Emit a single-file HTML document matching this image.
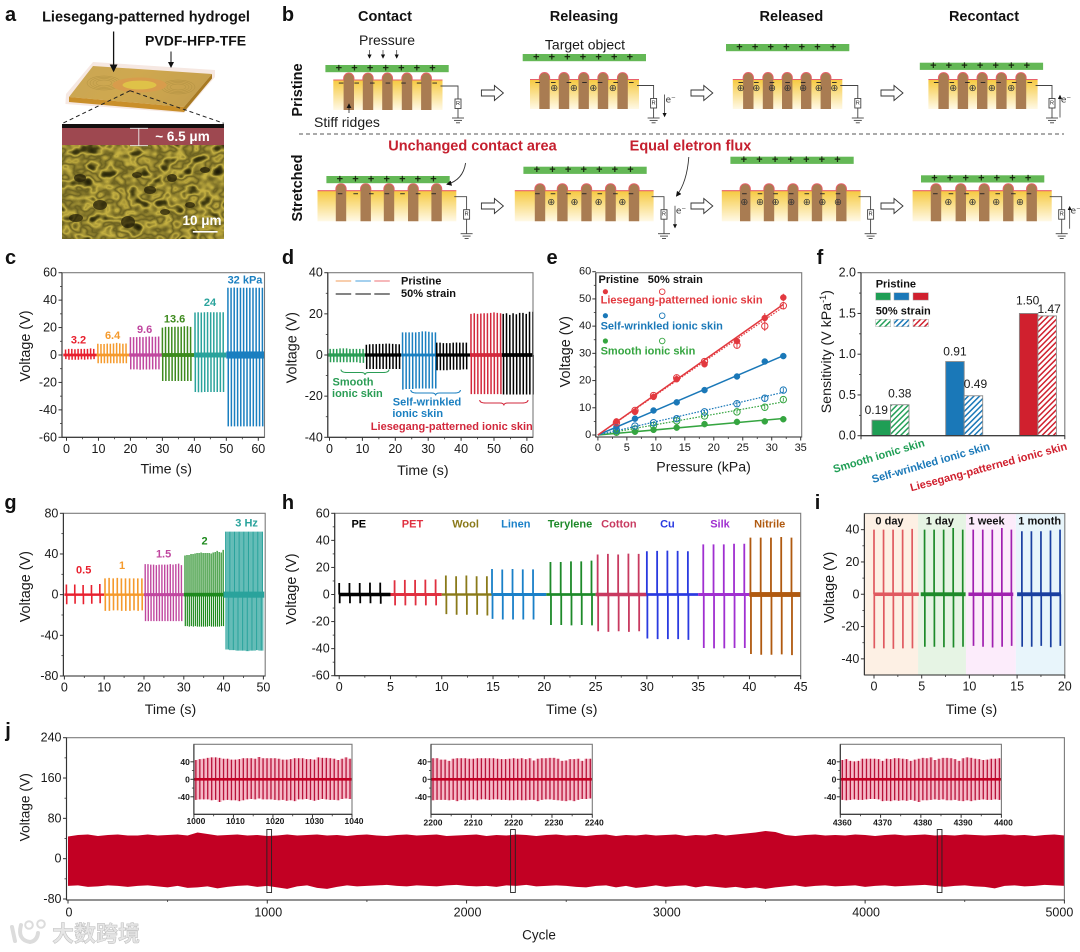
<!DOCTYPE html>
<html lang="en">
<head>
<meta charset="utf-8">
<title>Liesegang-patterned ionic skin figure</title>
<style>
html,body{margin:0;padding:0;background:#fff;}
svg{display:block;font-family:"Liberation Sans","Noto Sans CJK SC",sans-serif;}
</style>
</head>
<body>
<svg id="fig" xmlns="http://www.w3.org/2000/svg" width="1080" height="952" viewBox="0 0 1080 952">
<defs>
<linearGradient id="gel" x1="0" y1="0" x2="0" y2="1"><stop offset="0" stop-color="#f6c93f"/><stop offset="1" stop-color="#fff9e6"/></linearGradient>
<linearGradient id="slabTop" x1="0" y1="0" x2="1" y2="0.3"><stop offset="0" stop-color="#c9a655"/><stop offset="0.5" stop-color="#cfa84f"/><stop offset="1" stop-color="#c6a04e"/></linearGradient>
<pattern id="hatchGreen" width="4" height="4" patternUnits="userSpaceOnUse" patternTransform="rotate(45)"><rect width="4" height="4" fill="#fff"/><rect width="1.5" height="4" fill="#25a05a"/></pattern>
<pattern id="hatchBlue" width="4" height="4" patternUnits="userSpaceOnUse" patternTransform="rotate(45)"><rect width="4" height="4" fill="#fff"/><rect width="1.5" height="4" fill="#1a78b8"/></pattern>
<pattern id="hatchRed" width="4" height="4" patternUnits="userSpaceOnUse" patternTransform="rotate(45)"><rect width="4" height="4" fill="#fff"/><rect width="1.5" height="4" fill="#d0202e"/></pattern>
<filter id="foam" x="0" y="0" width="100%" height="100%" color-interpolation-filters="sRGB">
<feTurbulence type="fractalNoise" baseFrequency="0.07 0.09" numOctaves="2" seed="7"/>
<feColorMatrix type="matrix" values="1 0 0 0 0 1 0 0 0 0 1 0 0 0 0 0 0 0 0 1"/>
<feComponentTransfer>
<feFuncR type="table" tableValues="0.1 0.12 0.26 0.78 0.42 0.74 0.4 0.6"/>
<feFuncG type="table" tableValues="0.09 0.11 0.24 0.7 0.38 0.66 0.36 0.54"/>
<feFuncB type="table" tableValues="0.02 0.03 0.07 0.26 0.13 0.24 0.12 0.2"/>
<feFuncA type="linear" slope="0" intercept="1"/>
</feComponentTransfer>
</filter>
<marker id="arrowBlack" markerWidth="7" markerHeight="7" refX="5" refY="3" orient="auto"><path d="M0,0 L6,3 L0,6 Z" fill="#111"/></marker>
</defs>
</svg>
<script>
/* ---------- panel c data ---------- */
const cCategories = ['3.2','6.4','9.6','13.6','24','32 kPa'];
const cFirstPulse = [-0.3,9.8,20,30,40.2,50.5];
const cSegEnd = [9.4,19.6,29.8,39.9,50,62];
const cPos = [
 [4,4.5,4.5,4.2,4.5,4.5,4.5,4.5,4.8,4.5],
 [8.2,8,8,8.3,8.2,8.4,8.8,8.5,8.2,8.4],
 [13,13,13,13.2,13,13.3,13.5,13.3,13.3,13.5],
 [20,20.5,20.5,20.5,20.6,20.6,20.6,21,21,20.5],
 [31,31.2,31,31.2,31.3,31.2,31.2,31.2,31.2,31.2],
 [49,49,49.2,49,49,49,49,49,49,49,49,49]
];
const cNeg = [
 [-3,-3.5,-3.5,-3.5,-3.5,-3.2,-3.5,-3.2,-3.2,-3],
 [-6,-6,-6,-6,-6,-6,-6,-6,-6,-6],
 [-10.5,-10.5,-10.5,-10.8,-10.6,-10.6,-10.6,-10.5,-10.5,-10.5],
 [-19,-19,-19,-19,-19,-19,-19,-19,-19,-19],
 [-27,-27.2,-27.2,-27,-27,-27,-27,-27,-27,-27],
 [-52,-52,-52,-52,-52,-52,-52,-52,-52,-52,-52,-52]
];
const cNoise = [1,1,1.2,1.4,1.8,2.6];
const cXTicks = [0,10,20,30,40,50,60];
const cYTicks = [-60,-40,-20,0,20,40,60];

/* ---------- panel d data ---------- */
const dCategories = ['smooth-pristine','smooth-strain','wrinkled-pristine','wrinkled-strain','liesegang-pristine','liesegang-strain'];
const dFirstPulse = [0.2,11.2,22.2,32.6,43,52.8];
const dSegEnd = [10.8,21.8,32.3,42.7,52.4,62];
const dPos = [
 [3,3,3,3.2,3.2,3.2,3,3,3,3,3],
 [5,5.2,5.3,5.3,5.4,5.4,5.5,5.5,5.4,5.3,5.2],
 [11,11,11,11,11,11.2,11.5,11.5,11.3,11,11],
 [6,6,5.8,5.8,5.8,6,6.1,6,6,6],
 [20,20.3,20,20.2,20.3,20.3,20.5,20.7,20.5,20.3],
 [20,20.3,19.5,20.3,19.8,20.5,20.5,20,21,21]
];
const dNeg = [
 [-3.5,-3.5,-3.5,-3.5,-3.5,-3.5,-3.5,-3.5,-3.5,-3.8,-3.8],
 [-6.8,-6.8,-6.8,-6.8,-6.8,-6.8,-6.8,-6.8,-6.8,-6.8,-6.8],
 [-16.8,-16.5,-16.5,-16.5,-16.3,-16.3,-16.3,-16.3,-16.3,-16.3,-16.3],
 [-7.4,-7.4,-7.4,-7.4,-7.2,-7.2,-7.2,-7.2,-7,-7],
 [-19,-19,-19,-19,-19,-19,-19,-19,-19,-19],
 [-19.2,-19.2,-19.2,-19.2,-19.2,-19.2,-19.2,-19.2,-19.2,-19.2]
];
const dNoise = [0.8,0.8,0.7,0.8,0.9,0.9];
const dXTicks = [0,10,20,30,40,50,60];
const dYTicks = [-40,-20,0,20,40];

/* ---------- panel e data ---------- */
const ePressure = [3.2,6.4,9.6,13.6,18.4,24,28.8,32];
const eLiesegangPristine = [5,8.5,14,20.5,26,34.5,43,50.5];
const eLiesegangStrain = [4.5,9,14.5,21,27,33,40,47.5];
const eWrinkledPristine = [3,6,9,12,16.5,21.5,27,29];
const eWrinkledStrain = [1.8,3.3,4.5,6,8.5,11.5,13.5,16.5];
const eSmoothPristine = [1.2,1.2,1.9,2.7,4,4.8,5,5.8];
const eSmoothStrain = [1,2.2,3.5,5.2,7,8.5,10.2,13];
const eLiesegangError = [0.5,0.8,0.8,1,1,1.3,1.8,1.4];
const eWrinkledError = [0.4,0.5,0.5,0.6,0.7,1,1,0.8];
const eSmoothError = [0.3,0.3,0.4,0.4,0.5,0.6,0.8,0.7];
const eXTicks = [0,5,10,15,20,25,30,35];
const eYTicks = [0,10,20,30,40,50,60];

/* ---------- panel f data ---------- */
const fCategories = ['Smooth ionic skin','Self-wrinkled ionic skin','Liesegang-patterned ionic skin'];
const fPristine = [0.19,0.91,1.50];
const fStrain = [0.38,0.49,1.47];
const fYTicks = [0,0.5,1,1.5,2];

/* ---------- panel g data ---------- */
const gCategories = ['0.5','1','1.5','2','3 Hz'];
const gFirstPulse = [0.5,10.2,20.3,30.3,40.5];
const gStep = [2.1,1.03,0.7,0.505,0.32];
const gPos = [
 [10,10,9.5,9.5,10.5],
 [16,16.5,16,16.5,16,16,16,16,16,16],
 [30,30,29.5,29.5,29,29.5,29.5,29.5,29.5,30,29.5,30,30.5,29],
 [38.5,39,39,40,40,40.5,41,41,41.5,41,41,41,41,40.5,41.5,42,43,42,41.5,44],
 [62,62,62,62,62,62,62,62,62,62,62,62,62,62,62,62,62,62,62,62,62,62,62,62,62,62,62,62,62,62]
];
const gNeg = [
 [-9.5,-9,-9.5,-9,-8.5],
 [-16,-16,-15.5,-15.5,-16,-16,-16,-15.5,-16,-15.5],
 [-26,-26,-26,-26,-26,-26,-26,-26,-26,-26,-26,-26,-26,-26],
 [-31,-31,-31.5,-31,-31.5,-31,-31.5,-31.5,-31.5,-31.5,-31.5,-31.5,-31,-31.5,-31.5,-31.5,-31.5,-31.5,-31,-31],
 [-54,-54,-54,-54.5,-54.5,-54.5,-54.5,-54.5,-55,-55,-55,-55,-55,-55,-55,-55,-55.5,-55.5,-55.5,-55,-55,-55,-55,-55,-54.5,-54.5,-55,-55,-55,-55]
];
const gBaseStart = [0,10,20,30,40];
const gBaseEnd = [10,20,30,40,50.2];
const gNoise = [1.2,1.2,1.5,1.8,3];
const gXTicks = [0,10,20,30,40,50];
const gYTicks = [-80,-40,0,40,80];

/* ---------- panel h data ---------- */
const hCategories = ['PE','PET','Wool','Linen','Terylene','Cotton','Cu','Silk','Nitrile'];
const hFirstPulse = [0,5.4,10.4,14.9,20.6,25.2,30,35.5,40.1];
const hBaseStart = [0,5,10,15,20.2,25,30,35,40];
const hBaseEnd = [5,10,15,20.2,25,30,35,40,45];
const hPos = [
 [8.5,8.5,8.5,8.8,8.8],
 [10.5,10.8,10.8,11,11.2],
 [14,13.5,14,13.5,13.5],
 [18.8,18.5,18.8,18.6,18.6],
 [24,24,24.5,24.5,25],
 [29.6,30,29.6,30.2,30],
 [32,32.2,32.4,32.2,32],
 [37,37,37,37.5,37.5],
 [42,42,42,42.5,42]
];
const hNeg = [
 [-6.5,-6.5,-6.5,-6.5,-6.8],
 [-8,-8,-8,-8,-8],
 [-14.5,-15,-15,-15,-15.5],
 [-18,-18.5,-18.5,-18.5,-18.5],
 [-22.5,-22.5,-22.8,-22.5,-22.8],
 [-27.2,-27.6,-27.2,-27.6,-27.2],
 [-32.5,-33,-33,-33,-33.5],
 [-39.5,-39.8,-39.8,-39.5,-39.5],
 [-44,-44.5,-44.5,-44.2,-44.8]
];
const hNoise = [1.3,1.1,0.9,1.1,1,1.3,1,1.1,1.8];
const hXTicks = [0,5,10,15,20,25,30,35,40,45];
const hYTicks = [-60,-40,-20,0,20,40,60];

/* ---------- panel i data ---------- */
const iCategories = ['0 day','1 day','1 week','1 month'];
const iFirstPulse = [0,5.3,10.4,15.5];
const iBaseStart = [0,4.9,9.9,15];
const iBaseEnd = [4.7,9.6,14.6,19.6];
const iBandEdges = [-1.05,4.62,9.64,14.87,20];
const iPos = [
 [40,40,40,40,40.5],
 [40,40,40,41,40],
 [40,40,40,41,40],
 [39,39,39,39.5,40]
];
const iNeg = [
 [-33.5,-33.5,-33.8,-33.5,-33.5],
 [-32.5,-32.5,-32.8,-33,-32.5],
 [-32,-32.5,-33,-32.5,-32],
 [-32.5,-32.5,-32,-32.8,-32]
];
const iNoise = [1.1,1.2,1.1,1.2];
const iXTicks = [0,5,10,15,20];
const iYTicks = [-40,-20,0,20,40];

/* ---------- panel j data ---------- */
const jTop = [44,47,48,45,47,48,46,46,48,46,47,48,46,52,49,46,47,48,46,47,45,46,48,46,47,48,46,47,45,47,48,46,45,47,48,46,47,48,45,46,47,48,45,47,46,48,47,45,47,48,46,47,45,47,48,45,47,46,48,46,47,48,45,47,46,49,46,48,50,52,55,53,47,45,47,48,46,47,46,48,47,45,47,48,46,47,48,46,47,46,48,47,46,47,48,46,47,45,47,48,46];
const jBottom = [-54,-53,-56,-55,-53,-54,-56,-54,-53,-55,-57,-54,-58,-57,-55,-59,-56,-54,-53,-56,-54,-57,-60,-55,-53,-58,-60,-56,-53,-55,-54,-53,-52,-54,-55,-53,-54,-55,-53,-52,-54,-55,-54,-56,-53,-54,-52,-55,-54,-53,-54,-56,-57,-54,-53,-57,-54,-58,-56,-53,-56,-54,-53,-57,-54,-56,-58,-56,-59,-57,-60,-57,-55,-53,-56,-54,-53,-55,-54,-53,-56,-54,-53,-55,-54,-53,-52,-54,-56,-54,-53,-55,-56,-59,-54,-53,-55,-54,-52,-53,-54];
const jXTicks = [0,1000,2000,3000,4000,5000];
const jYTicks = [-80,0,80,160,240];
const jInsetStarts = [1000,2200,4360];
const jMarkCycles = [998,2221,4362];
const jInsetPos = [
 [44,46,47,49,50,50,49,47,47,45,45,46,48,48,48,47,51,48,48,48,48,47,45,45,46,48,48,48,46,46,45,50,49,49,48,47,44,47,50,47],
 [48,48,45,45,42,47,48,48,48,47,47,48,48,48,48,48,47,46,46,47,48,47,48,46,48,43,47,48,48,49,49,47,42,43,46,46,47,42,47,47],
 [44,46,42,41,42,47,47,47,47,46,42,47,46,48,48,47,46,42,45,47,49,48,50,44,47,49,49,48,46,42,48,50,49,47,46,44,45,47,47,48]
];
const jInsetNeg = [
 [-47,-46,-46,-46,-48,-47,-52,-48,-47,-48,-48,-50,-48,-46,-45,-46,-44,-46,-46,-46,-47,-48,-47,-49,-48,-50,-46,-46,-45,-47,-49,-47,-45,-46,-47,-47,-48,-45,-44,-45],
 [-48,-47,-47,-47,-48,-47,-50,-47,-48,-47,-46,-48,-46,-46,-47,-46,-46,-47,-47,-48,-48,-47,-48,-48,-47,-47,-50,-47,-46,-46,-47,-48,-49,-50,-48,-50,-47,-45,-45,-44],
 [-47,-48,-47,-46,-47,-47,-46,-45,-45,-46,-50,-49,-50,-48,-49,-48,-49,-47,-49,-52,-48,-48,-47,-46,-47,-46,-48,-48,-47,-49,-50,-48,-50,-48,-47,-46,-47,-47,-46,-47]
];
const jInsetXTicks = [0,10,20,30,40];
const jInsetYTicks = [-40,0,40];

/* ---------- helpers ---------- */
const SVGNS = 'http://www.w3.org/2000/svg';
const root = document.getElementById('fig');
function lin(d0,d1,r0,r1){return v=>r0+(v-d0)*(r1-r0)/(d1-d0);}
function svgEl(parent,tag,attrs){
  const el=document.createElementNS(SVGNS,tag);
  for(const k in attrs){el.setAttribute(k,attrs[k]);}
  parent.appendChild(el);
  return el;
}
function panel(name){
  const g=svgEl(root,'g',{});
  
  
  return g;
}
function txt(parent,str,x,y,o,name){
  o=o||{};
  const el=svgEl(parent,'text',{x:x,y:y,'text-anchor':o.anchor||'middle','dominant-baseline':'central','font-size':o.size||12.5,'font-weight':o.weight||'normal',fill:o.fill||'#1a1a1a'});
  if(o.family){el.setAttribute('font-family',o.family);}
  if(o.rotate!==undefined){el.setAttribute('transform','rotate('+o.rotate+' '+x+' '+y+')');}
  el.textContent=str;
  
  
  return el;
}
function shape(parent,tag,attrs,name){
  const el=svgEl(parent,tag,attrs);
  
  
  return el;
}
function minorsOf(ticks){
  const out=[];
  for(let i=0;i<ticks.length-1;i++){out.push((ticks[i]+ticks[i+1])/2);}
  return out;
}
function drawAxes(g,box,x,y,xt,yt,o){
  o=o||{};
  const size=o.size||12.5;
  const frame=shape(g,'rect',{x:box.l,y:box.t,width:box.r-box.l,height:box.b-box.t,fill:'none',stroke:'#7a7a7a','stroke-width':1.1},'axes-frame');
  shape(g,'line',{x1:box.l,y1:box.t,x2:box.l,y2:box.b,stroke:'#333','stroke-width':1.1},'y-axis-line');
  shape(g,'line',{x1:box.l,y1:box.b,x2:box.r,y2:box.b,stroke:'#333','stroke-width':1.1},'x-axis-line');
  xt.forEach((t,i)=>{
    shape(g,'line',{x1:x(t),y1:box.b,x2:x(t),y2:box.b+3.5,stroke:'#333','stroke-width':1},'x-tick');
    const shift=(o.xLabelShift||0)+(i===xt.length-1?(o.lastLabelShift||0):0);
    txt(g,(o.xFmt?o.xFmt(t):String(t)),x(t)+shift,box.b+(o.xOff||11.5),{size:size,weight:o.weight},'x-tick-label');
  });
  if(!o.noMinor){minorsOf(xt).forEach(t=>{
    shape(g,'line',{x1:x(t),y1:box.b,x2:x(t),y2:box.b+2,stroke:'#333','stroke-width':0.8},'x-minor-tick');
  });}
  yt.forEach(t=>{
    shape(g,'line',{x1:box.l-3.5,y1:y(t),x2:box.l,y2:y(t),stroke:'#333','stroke-width':1},'y-tick');
    txt(g,(o.yFmt?o.yFmt(t):String(t)),box.l-(o.yOff||5),y(t),{size:size,anchor:'end',weight:o.weight},'y-tick-label');
  });
  minorsOf(yt).forEach(t=>{
    shape(g,'line',{x1:box.l-2,y1:y(t),x2:box.l,y2:y(t),stroke:'#333','stroke-width':0.8},'y-minor-tick');
  });
  return frame;
}
function drawPulses(g,x,y,first,step,pos,neg,color,lw,shift){
  let d='';
  pos.forEach((v,i)=>{
    const t=first+i*step;
    d+='M'+x(t).toFixed(2)+' '+y(0).toFixed(2)+'V'+y(v).toFixed(2);
    d+='M'+x(t+shift).toFixed(2)+' '+y(0).toFixed(2)+'V'+y(neg[i]).toFixed(2);
  });
  const p=svgEl(g,'path',{d:d,stroke:color,'stroke-width':lw,fill:'none'});
  
  
  return p;
}
function drawBaseline(g,x,y,t0,t1,noise,color){
  const r=svgEl(g,'rect',{x:x(t0),y:y(noise),width:x(t1)-x(t0),height:y(-noise)-y(noise),fill:color});
  
  
  return r;
}

/* ---------- panel a ---------- */
(function(){
  const g=panel('panel-a');
  txt(g,'a',10.5,15,{size:20,weight:'bold',fill:'#111'},'panel-label-a');
  txt(g,'Liesegang-patterned hydrogel',146,17.5,{size:14.5,weight:'bold',fill:'#111'},'hydrogel-label');
  txt(g,'PVDF-HFP-TFE',195.6,40.7,{size:14,weight:'bold',fill:'#111'},'pvdf-label');
  shape(g,'polygon',{points:'93,62 215,70 215,77 184,113 65.4,104 66,94',fill:'#f6e8e2'},'slab-halo');
  shape(g,'polygon',{points:'93,66 212,74 184,107 69,97',fill:'url(#slabTop)'},'slab-top');
  shape(g,'polygon',{points:'69,97 184,107 184,112 69,102',fill:'#c98f2a'},'slab-front');
  shape(g,'polygon',{points:'184,107 212,74 212,78.5 184,112',fill:'#a87a22'},'slab-side');
  [[104,83,17,7],[104,83,14,5.8],[104,83,11,4.4],[104,83,8,3],[178,87,17,7],[178,87,14,5.8],[178,87,11,4.4],[178,87,8,3]].forEach(e=>{
    shape(g,'ellipse',{cx:e[0],cy:e[1],rx:e[2],ry:e[3],fill:'none',stroke:'#a88a3c','stroke-width':0.5,opacity:0.7},'liesegang-ring');
  });
  shape(g,'ellipse',{cx:139.5,cy:85,rx:27,ry:7.5,fill:'#d89c4c'},'center-ring-outer');
  shape(g,'ellipse',{cx:139.5,cy:85,rx:17,ry:4.4,fill:'#dfc248'},'center-ring-inner');
  shape(g,'line',{x1:113.6,y1:31.5,x2:113.6,y2:71,stroke:'#111','stroke-width':1.3,'marker-end':'url(#arrowBlack)'},'hydrogel-arrow');
  shape(g,'line',{x1:171,y1:51.5,x2:171,y2:67,stroke:'#111','stroke-width':1,'marker-end':'url(#arrowBlack)'},'pvdf-arrow');
  shape(g,'line',{x1:130,y1:90.7,x2:62.7,y2:123.3,stroke:'#222','stroke-width':1,'stroke-dasharray':'4 3'},'zoom-guide-left');
  shape(g,'line',{x1:130,y1:90.7,x2:223.8,y2:123.3,stroke:'#222','stroke-width':1,'stroke-dasharray':'4 3'},'zoom-guide-right');
  shape(g,'rect',{x:62,y:124,width:162,height:4,fill:'#141010'},'sem-top-band');
  shape(g,'rect',{x:62,y:128,width:162,height:17,fill:'#9e4850'},'sem-film-layer');
  shape(g,'rect',{x:62,y:145,width:162,height:93.7,fill:'#a89a3c',filter:'url(#foam)'},'sem-foam-image');
  [[80,178,6,4],[100,205,7,5],[137,175,5,3],[150,190,6,4],[172,178,5,4],[128,222,7,6],[76,218,7,4],[190,205,5,3],[165,212,5,3],[205,170,5,3]].forEach(e=>{
    shape(g,'ellipse',{cx:e[0],cy:e[1],rx:e[2],ry:e[3],fill:'#241f08',opacity:0.75},'sem-pore');
  });
  shape(g,'path',{d:'M130 128.3H148M138.8 128.3V145.7M130 145.7H148',stroke:'#eee','stroke-width':0.9,fill:'none'},'thickness-bracket');
  txt(g,'~ 6.5 μm',182.5,136.7,{size:13.5,weight:'bold',fill:'#fff'},'thickness-label');
  txt(g,'10 μm',202,220.7,{size:13.5,weight:'bold',fill:'#fff'},'scale-bar-label');
  shape(g,'rect',{x:192.8,y:231,width:24.8,height:1.6,fill:'#fff'},'scale-bar');
})();

/* ---------- panel b ---------- */
(function(){
  const g=panel('panel-b');
  txt(g,'b',288,15,{size:20,weight:'bold',fill:'#111'},'panel-label-b');
  [['Contact',385],['Releasing',584],['Released',791.4],['Recontact',984]].forEach(h=>{
    txt(g,h[0],h[1],17,{size:14.5,weight:'bold',fill:'#111'},'stage-header');
  });
  txt(g,'Pristine',298,90,{size:14.5,weight:'bold',rotate:-90,fill:'#111'},'row-label-pristine');
  txt(g,'Stretched',298,188,{size:14.5,weight:'bold',rotate:-90,fill:'#111'},'row-label-stretched');
  shape(g,'line',{x1:299,y1:134,x2:1064,y2:134,stroke:'#777','stroke-width':1.2,'stroke-dasharray':'4 3'},'row-divider');
  txt(g,'Pressure',387,40,{size:14,fill:'#1a1a1a'},'pressure-label');
  [369.5,383,396.7].forEach(ax=>{
    shape(g,'line',{x1:ax,y1:50,x2:ax,y2:58,stroke:'#333','stroke-width':0.7,'marker-end':'url(#arrowBlack)'},'pressure-arrow');
  });
  txt(g,'Target object',585,44.7,{size:14,fill:'#1a1a1a'},'target-object-label');
  txt(g,'Stiff ridges',314,122,{size:14,anchor:'start',fill:'#1a1a1a'},'stiff-ridges-label');
  txt(g,'Unchanged contact area',472.5,146.7,{size:14.5,weight:'bold',fill:'#c5202f'},'unchanged-area-label');
  txt(g,'Equal eletron flux',690.5,146.7,{size:14.5,weight:'bold',fill:'#c5202f'},'equal-flux-label');

  function hollowArrow(x0,x1,cy){
    const m=x1-9;
    shape(g,'polygon',{points:[x0,cy-3,m,cy-3,m,cy-7.5,x1,cy,m,cy+7.5,m,cy+3,x0,cy+3].join(','),fill:'#fff',stroke:'#333','stroke-width':0.9},'stage-arrow');
  }
  [[481.4,503.4],[691,712.8],[881,903]].forEach(a=>{hollowArrow(a[0],a[1],93);hollowArrow(a[0],a[1],206);});

  function unit(u){
    const c=svgEl(g,'g',{});
    
    
    shape(c,'rect',{x:u.hx0,y:u.ht,width:u.hx1-u.hx0,height:u.hb-u.ht,fill:'url(#gel)'},'hydrogel-layer');
    shape(c,'line',{x1:u.hx0,y1:u.ht,x2:u.hx1,y2:u.ht,stroke:'#e8606a','stroke-width':1.1},'dielectric-film');
    u.r.forEach(cx=>{
      const w=5.2, top=u.ht-7;
      shape(c,'path',{d:'M'+(cx-w)+' '+u.hb+'V'+(top+w)+'A'+w+' '+w+' 0 0 1 '+(cx+w)+' '+(top+w)+'V'+u.hb+'Z',fill:'#a97c52'},'stiff-ridge');
      shape(c,'path',{d:'M'+(cx-w)+' '+(top+w+2)+'V'+(top+w)+'A'+w+' '+w+' 0 0 1 '+(cx+w)+' '+(top+w)+'V'+(top+w+2),fill:'none',stroke:'#e8606a','stroke-width':0.9},'ridge-film');
    });
    const mid=(u.hx0+u.hx1)/2;
    [-3,-2,-1,0,1,2,3].forEach(k=>{
      shape(c,'rect',{x:mid+k*15.6-2.3,y:u.ht+2.6,width:4.6,height:0.9,fill:'#222'},'negative-charge');
    });
    if(u.ions==='few'){
      for(let i=0;i<u.r.length-1;i++){
        txt(c,'⊕',(u.r[i]+u.r[i+1])/2,u.ht+u.iy,{size:9.5,fill:'#333',family:'"DejaVu Sans",sans-serif'},'positive-ion');
      }
    }else if(u.ions==='all'){
      [-3,-2,-1,0,1,2,3].forEach(k=>{
        txt(c,'⊕',mid+k*15.6,u.ht+u.iy,{size:9.5,fill:'#333',family:'"DejaVu Sans",sans-serif'},'positive-ion');
      });
    }
    shape(c,'rect',{x:u.gx0,y:u.gy,width:123.3,height:7.2,fill:'#64b856'},'target-object');
    for(let k=0;k<7;k++){
      txt(c,'+',u.gx0+13.5+k*15.6,u.gy+3.4,{size:11,weight:'bold',fill:'#1a2a10'},'positive-charge-target');
    }
    const wy=u.ht+6, rt=u.ht+19, gy=u.ht+u.gd;
    shape(c,'path',{d:'M'+(u.hx1-2)+' '+wy+'H'+u.rx+'V'+gy,fill:'none',stroke:'#444','stroke-width':0.9},'circuit-wire');
    shape(c,'rect',{x:u.rx-3,y:rt,width:6,height:9.5,fill:'#fff',stroke:'#444','stroke-width':0.9},'resistor');
    txt(c,'R',u.rx,rt+4.8,{size:5.5,fill:'#222'},'resistor-label');
    [[6,0],[4,2.4],[2,4.8]].forEach(l=>{
      shape(c,'line',{x1:u.rx-l[0],y1:gy+l[1],x2:u.rx+l[0],y2:gy+l[1],stroke:'#444','stroke-width':0.9},'ground-line');
    });
    if(u.e){
      const ax=u.rx+(u.e>0?8:11);
      const y1=u.e>0?u.ht+38:u.ht+15, y2=u.e>0?u.ht+16:u.ht+37;
      shape(c,'line',{x1:ax,y1:y1,x2:ax,y2:y2,stroke:'#222','stroke-width':0.7,'marker-end':'url(#arrowBlack)'},'electron-flow-arrow');
      txt(c,'e⁻',ax+6,u.ht+21,{size:9,fill:'#333',family:'"DejaVu Sans",sans-serif'},'electron-label');
    }
  }
  unit({gx0:325.4,gy:65,hx0:333.3,hx1:442.5,ht:80,hb:110,r:[348.8,368,387.4,407,426.3],ions:'none',iy:8.5,rx:458,gd:38});
  unit({gx0:522.7,gy:54,hx0:530,hx1:639,ht:79.5,hb:109,r:[544.5,564,583.7,603,622.6],ions:'few',iy:9,rx:653.6,gd:38.5,e:-1});
  unit({gx0:726,gy:44,hx0:732.8,hx1:842.3,ht:79.5,hb:109,r:[748.3,768,787.2,806.2,825.8],ions:'all',iy:9,rx:857.8,gd:38.5});
  unit({gx0:919.8,gy:62.7,hx0:928.4,hx1:1037.6,ht:79.5,hb:109,r:[943.6,962.9,982.2,1001.4,1021],ions:'few',iy:9,rx:1052,gd:38.5,e:1});
  unit({gx0:326.4,gy:176,hx0:317.5,hx1:456.3,ht:190.7,hb:221.3,r:[341,365.7,389,413.2,436.6],ions:'none',iy:12,rx:466.6,gd:43});
  unit({gx0:523.4,gy:166.7,hx0:514.8,hx1:653.6,ht:190.7,hb:221.3,r:[540,562.4,586.5,610.6,634],ions:'few',iy:12,rx:664,gd:43,e:-1});
  unit({gx0:730.4,gy:156.7,hx0:721.8,hx1:860.6,ht:190.7,hb:221.3,r:[745.2,769,793,817,841.3],ions:'all',iy:12,rx:870.6,gd:43});
  unit({gx0:921,gy:175.3,hx0:912.6,hx1:1051.7,ht:190.7,hb:221.3,r:[936,960.8,984.2,1008.3,1031.7],ions:'few',iy:12,rx:1061.7,gd:43,e:1});

  shape(g,'line',{x1:349,y1:113,x2:349,y2:104,stroke:'#222','stroke-width':0.8,'marker-end':'url(#arrowBlack)'},'stiff-ridges-arrow');
  shape(g,'path',{d:'M465.6 163 Q463 180 447 184.3',fill:'none',stroke:'#333','stroke-width':0.9,'marker-end':'url(#arrowBlack)'},'contact-callout-arrow');
  shape(g,'path',{d:'M688.8 157 Q687 182 676.5 196',fill:'none',stroke:'#333','stroke-width':0.9,'marker-end':'url(#arrowBlack)'},'flux-callout-arrow');
})();

/* ---------- panel c ---------- */
(function(){
  const g=panel('panel-c');
  txt(g,'c',10.5,258,{size:20,weight:'bold',fill:'#111'},'panel-label-c');
  const box={l:62,r:264.5,t:272.7,b:437.3};
  const x=lin(0,60,66.5,258.3), y=lin(-60,60,437.3,272.7);
  const colors=['#e8202e','#f59a2c','#c0479f','#3e8a1e','#2aa39c','#1a7fc0'];
  const lx=[78.5,112.6,144.6,174.6,210,245], ly=[340.7,336,330,319.3,303,280.7];
  cCategories.forEach((c,i)=>{
    drawBaseline(g,x,y,i?cSegEnd[i-1]:-1,cSegEnd[i],cNoise[i],colors[i]);
    drawPulses(g,x,y,cFirstPulse[i],0.98,cPos[i],cNeg[i],colors[i],1.5,0.1);
    txt(g,c,lx[i],ly[i],{size:11,weight:'bold',fill:colors[i]},'pressure-label-'+i);
  });
  drawAxes(g,box,x,y,cXTicks,cYTicks,{xOff:11.5});
  txt(g,'Time (s)',166.3,469.3,{size:14.2},'x-axis-title');
  txt(g,'Voltage (V)',25.8,346,{size:14.4,rotate:-90},'y-axis-title');
})();

/* ---------- panel d ---------- */
(function(){
  const g=panel('panel-d');
  txt(g,'d',288,258,{size:20,weight:'bold',fill:'#111'},'panel-label-d');
  const box={l:327.8,r:533,t:272.7,b:437.3};
  const x=lin(0,60,329.5,526.9), y=lin(-40,40,437.3,272.7);
  const colors=['#2a9d55','#000','#1a7fc0','#000','#d2283c','#000'];
  dCategories.forEach((c,i)=>{
    drawBaseline(g,x,y,i?dSegEnd[i-1]:-0.4,dSegEnd[i],dNoise[i],colors[i]);
    drawPulses(g,x,y,dFirstPulse[i],1,dPos[i],dNeg[i],colors[i],1.5,0.1);
  });
  drawAxes(g,box,x,y,dXTicks,dYTicks,{xOff:11.5});
  [[335.7,351.2,'#f5b98a'],[355.4,370.9,'#7dbce6'],[374.3,389.8,'#f2999c']].forEach(l=>{
    shape(g,'line',{x1:l[0],y1:281,x2:l[1],y2:281,stroke:l[2],'stroke-width':1.4},'legend-pristine-line');
  });
  [[335.7,351.2],[355.4,370.9],[374.3,389.8]].forEach(l=>{
    shape(g,'line',{x1:l[0],y1:294,x2:l[1],y2:294,stroke:'#333','stroke-width':1.2},'legend-strain-line');
  });
  txt(g,'Pristine',401,281.7,{size:11,weight:'bold',anchor:'start',fill:'#111'},'legend-pristine');
  txt(g,'50% strain',401,294,{size:11,weight:'bold',anchor:'start',fill:'#111'},'legend-strain');
  function brace(x0,x1,yy,h,color){
    const m=(x0+x1)/2;
    const d='M'+x0+' '+yy+'Q'+x0+' '+(yy+h*0.55)+' '+(x0+6)+' '+(yy+h*0.55)+'H'+(m-4)+'Q'+m+' '+(yy+h*0.55)+' '+m+' '+(yy+h)+'Q'+m+' '+(yy+h*0.55)+' '+(m+4)+' '+(yy+h*0.55)+'H'+(x1-6)+'Q'+x1+' '+(yy+h*0.55)+' '+x1+' '+yy;
    shape(g,'path',{d:d,fill:'none',stroke:color,'stroke-width':1},'group-brace');
  }
  brace(341,389,369.5,5.5,'#2a9d55');
  brace(410.8,460.4,390,5.5,'#1a7fc0');
  brace(479.7,528,400,5.5,'#d2283c');
  txt(g,'Smooth',353,382.7,{size:11,weight:'bold',fill:'#2a9d55'},'smooth-label-line-1');
  txt(g,'ionic skin',357.4,394,{size:11,weight:'bold',fill:'#2a9d55'},'smooth-label-line-2');
  txt(g,'Self-wrinkled',427,402.7,{size:11,weight:'bold',fill:'#1a7fc0'},'wrinkled-label-line-1');
  txt(g,'ionic skin',417.7,414,{size:11,weight:'bold',fill:'#1a7fc0'},'wrinkled-label-line-2');
  txt(g,'Liesegang-patterned ionic skin',451.8,427,{size:11,weight:'bold',fill:'#d2283c'},'liesegang-label');
  txt(g,'Time (s)',422.9,471,{size:14.2},'x-axis-title');
  txt(g,'Voltage (V)',292.7,347.7,{size:14.4,rotate:-90},'y-axis-title');
})();

/* ---------- panel e ---------- */
(function(){
  const g=panel('panel-e');
  txt(g,'e',552,258,{size:20,weight:'bold',fill:'#111'},'panel-label-e');
  const box={l:595.8,r:801.7,t:272.7,b:437};
  const x=lin(0,35,597.9,800.7), y=lin(0,60,435,271.7);
  const red='#e2393f', blue='#1a78b8', green='#35a540';
  const series=[
    [eSmoothPristine,eSmoothError,green,true,fPristine[0]],
    [eSmoothStrain,eSmoothError,green,false,fStrain[0]],
    [eWrinkledPristine,eWrinkledError,blue,true,fPristine[1]],
    [eWrinkledStrain,eWrinkledError,blue,false,fStrain[1]],
    [eLiesegangPristine,eLiesegangError,red,true,fPristine[2]],
    [eLiesegangStrain,eLiesegangError,red,false,fStrain[2]]
  ];
  series.forEach(s=>{
    const last=ePressure[ePressure.length-1];
    const fit=svgEl(g,'line',{x1:x(0),y1:y(0),x2:x(last),y2:y(s[4]*last),stroke:s[2],'stroke-width':s[3]?1.5:1.2});
    if(!s[3]){fit.setAttribute('stroke-dasharray','1.6 1.4');}
    
    
    ePressure.forEach((p,i)=>{
      const err=svgEl(g,'line',{x1:x(p),y1:y(s[0][i]-s[1][i]),x2:x(p),y2:y(s[0][i]+s[1][i]),stroke:s[2],'stroke-width':0.9});
      
      
      const pt=svgEl(g,'circle',{cx:x(p),cy:y(s[0][i]),r:s[3]?3:3.2,fill:s[3]?s[2]:'none',stroke:s[2],'stroke-width':s[3]?0.5:1});
      
      
    });
  });
  drawAxes(g,box,x,y,eXTicks,eYTicks,{size:11,xOff:11,yOff:4.5});
  txt(g,'Pristine',598.5,280,{size:11,weight:'bold',anchor:'start',fill:'#111'},'legend-pristine');
  txt(g,'50% strain',647.8,280,{size:11,weight:'bold',anchor:'start',fill:'#111'},'legend-strain');
  [[291.7,red,'Liesegang-patterned ionic skin',300.7],[315.7,blue,'Self-wrinkled ionic skin',326.7],[341,green,'Smooth ionic skin',351.7]].forEach(l=>{
    shape(g,'circle',{cx:605.4,cy:l[0],r:2.6,fill:l[1]},'legend-marker-pristine');
    shape(g,'circle',{cx:662.2,cy:l[0],r:2.8,fill:'none',stroke:l[1],'stroke-width':0.9},'legend-marker-strain');
    txt(g,l[2],600.6,l[3],{size:11,weight:'bold',anchor:'start',fill:l[1]},'legend-series-label');
  });
  txt(g,'Pressure (kPa)',703.6,467.3,{size:14.2},'x-axis-title');
  txt(g,'Voltage (V)',565.8,351.7,{size:14.4,rotate:-90},'y-axis-title');
})();

/* ---------- panel f ---------- */
(function(){
  const g=panel('panel-f');
  txt(g,'f',820,258,{size:20,weight:'bold',fill:'#111'},'panel-label-f');
  const box={l:861,r:1064.8,t:272.7,b:435.7};
  const y=lin(0,2,435.7,272.7);
  const groupX=lin(0,1,890.5,964.2);
  const barW=18.5;
  const solid=['#1f9e55','#1a78b8','#d0202e'];
  const hatch=['url(#hatchGreen)','url(#hatchBlue)','url(#hatchRed)'];
  const labelNudge=[[-5,0,0,-1],[0,0,2,-2],[-1,-3,2,3]];
  fCategories.forEach((c,i)=>{
    const cx=i===2?1037.9:groupX(i);
    const a=svgEl(g,'rect',{x:cx-barW,y:y(fPristine[i]),width:barW,height:y(0)-y(fPristine[i]),fill:solid[i],stroke:'#8a8a8a','stroke-width':0.9});
    
    
    const b=svgEl(g,'rect',{x:cx,y:y(fStrain[i]),width:barW,height:y(0)-y(fStrain[i]),fill:hatch[i],stroke:'#8a8a8a','stroke-width':0.9});
    
    
    const n=labelNudge[i];
    txt(g,fPristine[i].toFixed(2),cx-barW/2+n[0],y(fPristine[i])-10+n[1],{size:12},'bar-value-pristine');
    txt(g,fStrain[i].toFixed(2),cx+barW/2+n[2],y(fStrain[i])-10+n[3],{size:12},'bar-value-strain');
  });
  drawAxes(g,box,x=>x,y,[],fYTicks,{yFmt:t=>t.toFixed(1),size:12.5,yOff:5});
  shape(g,'line',{x1:box.l,y1:box.b,x2:box.l,y2:box.b+3.5,stroke:'#333','stroke-width':1},'x-tick');
  shape(g,'line',{x1:box.r,y1:box.b,x2:box.r,y2:box.b+3.5,stroke:'#333','stroke-width':1},'x-tick');
  txt(g,'Pristine',875.7,284.3,{size:11,weight:'bold',anchor:'start',fill:'#111'},'legend-pristine');
  txt(g,'50% strain',875.7,311.3,{size:11,weight:'bold',anchor:'start',fill:'#111'},'legend-strain');
  [[875.7,14.8],[894,15],[913,15.4]].forEach((s,i)=>{
    shape(g,'rect',{x:s[0],y:292.7,width:s[1],height:7.4,fill:solid[i],stroke:'#aaa','stroke-width':0.5},'legend-swatch-pristine');
    shape(g,'rect',{x:s[0],y:319.3,width:s[1],height:7.4,fill:hatch[i],stroke:'#aaa','stroke-width':0.5},'legend-swatch-strain');
  });
  txt(g,fCategories[0],879,456.5,{size:11,weight:'bold',fill:'#1f9e55',rotate:-16.5},'category-label');
  txt(g,fCategories[1],931,463.3,{size:11,weight:'bold',fill:'#1a78b8',rotate:-16},'category-label');
  txt(g,fCategories[2],988.7,467.5,{size:11,weight:'bold',fill:'#d0202e',rotate:-15},'category-label');
  const t=txt(g,'Sensitivity (V kPa',827,351.7,{size:14.2,rotate:-90},'y-axis-title');
  const sup=svgEl(t,'tspan',{dy:-4,'font-size':9});
  sup.textContent='-1';
  
  
  const close=svgEl(t,'tspan',{dy:4});
  close.textContent=')';
  
  
})();

/* ---------- panel g ---------- */
(function(){
  const g=panel('panel-g');
  txt(g,'g',10.5,503,{size:20,weight:'bold',fill:'#111'},'panel-label-g');
  const box={l:63.4,r:265.2,t:513.3,b:676};
  const x=lin(0,50,64.4,263.4), y=lin(-80,80,676,513.3);
  const colors=['#e8202e','#f59a2c','#c0479f','#1e8a1e','#2aa39c'];
  const widths=[1.6,1.6,1.4,1.2,1];
  const lx=[83.7,122,163.6,204.5,246.6], ly=[570.7,566,554.3,541.7,523.3];
  gCategories.forEach((c,i)=>{
    drawBaseline(g,x,y,gBaseStart[i],gBaseEnd[i],gNoise[i],colors[i]);
    drawPulses(g,x,y,gFirstPulse[i],gStep[i],gPos[i],gNeg[i],colors[i],widths[i],0.08);
    txt(g,c,lx[i],ly[i],{size:11,weight:'bold',fill:colors[i]},'frequency-label-'+i);
  });
  drawAxes(g,box,x,y,gXTicks,gYTicks,{xOff:11.5});
  txt(g,'Time (s)',170.5,710,{size:14.2},'x-axis-title');
  txt(g,'Voltage (V)',25.8,586.7,{size:14.4,rotate:-90},'y-axis-title');
})();

/* ---------- panel h ---------- */
(function(){
  const g=panel('panel-h');
  txt(g,'h',288,503,{size:20,weight:'bold',fill:'#111'},'panel-label-h');
  const box={l:334.7,r:800.7,t:513.3,b:675.7};
  const x=lin(0,45,339.2,800.7), y=lin(-60,60,675.7,513.3);
  const colors=['#000','#e03040','#8a7a1a','#1a80c8','#1e8a2a','#c83a60','#2a3ae0','#a030d0','#b05a10'];
  const lx=[358.8,412.5,465.6,515.8,570,618.9,667.4,720,769.7];
  hCategories.forEach((c,i)=>{
    drawBaseline(g,x,y,hBaseStart[i],hBaseEnd[i],hNoise[i],colors[i]);
    drawPulses(g,x,y,hFirstPulse[i],1,hPos[i],hNeg[i],colors[i],1.8,0.05);
    txt(g,c,lx[i],524.7,{size:11,weight:'bold',fill:colors[i]},'material-label-'+i);
  });
  drawAxes(g,box,x,y,hXTicks,hYTicks,{xOff:11.5});
  txt(g,'Time (s)',571.7,710,{size:14.2},'x-axis-title');
  txt(g,'Voltage (V)',292,589,{size:14.4,rotate:-90},'y-axis-title');
})();

/* ---------- panel i ---------- */
(function(){
  const g=panel('panel-i');
  txt(g,'i',817.5,503,{size:20,weight:'bold',fill:'#111'},'panel-label-i');
  const box={l:864.4,r:1064.8,t:513.5,b:675};
  const x=lin(0,20,874,1064.8), y=lin(-50,50,675,513.5);
  const colors=['#e05a60','#1e8a2a','#a020b0','#1a3fa0'];
  const bands=['#fdf0e4','#e6f4e4','#fcecfb','#e8f5fb'];
  const lx=[889.5,939.8,986.6,1039.7];
  iCategories.forEach((c,i)=>{
    const b=svgEl(g,'rect',{x:x(iBandEdges[i]),y:box.t,width:x(iBandEdges[i+1])-x(iBandEdges[i]),height:box.b-box.t,fill:bands[i]});
    
    
  });
  iCategories.forEach((c,i)=>{
    drawBaseline(g,x,y,iBaseStart[i],iBaseEnd[i],iNoise[i],colors[i]);
    drawPulses(g,x,y,iFirstPulse[i],1,iPos[i],iNeg[i],colors[i],1.7,0.03);
    txt(g,c,lx[i],521.7,{size:11,weight:'bold',fill:'#111'},'age-label-'+i);
  });
  drawAxes(g,box,x,y,iXTicks,iYTicks,{xOff:11.5});
  txt(g,'Time (s)',971.5,710,{size:14.2},'x-axis-title');
  txt(g,'Voltage (V)',830,587.3,{size:14.4,rotate:-90},'y-axis-title');
})();

/* ---------- panel j ---------- */
(function(){
  const g=panel('panel-j');
  txt(g,'j',8,731,{size:20,weight:'bold',fill:'#111'},'panel-label-j');
  const box={l:66.5,r:1064.4,t:737.7,b:900};
  const x=lin(0,5000,68,1064.4), y=lin(-80,240,899,737.7);
  const cycleAt=(i,n)=>i*5000/(n-1);
  let d='';
  jTop.forEach((v,i)=>{d+=(i?'L':'M')+x(cycleAt(i,jTop.length)).toFixed(1)+' '+y(v).toFixed(1);});
  for(let i=jBottom.length-1;i>=0;i--){d+='L'+x(cycleAt(i,jBottom.length)).toFixed(1)+' '+y(jBottom[i]).toFixed(1);}
  const band=svgEl(g,'path',{d:d+'Z',fill:'#c20023'});
  
  
  drawAxes(g,box,x,y,jXTicks,jYTicks,{xOff:12.5,xLabelShift:1,lastLabelShift:-6});
  txt(g,'Cycle',539,935,{size:13.5},'x-axis-title');
  txt(g,'Voltage (V)',24.8,807.3,{size:13.8,rotate:-90},'y-axis-title');

  const insetBoxes=[{l:193.9,r:352},{l:431,r:592.3},{l:840.3,r:1001.4}];
  jInsetStarts.forEach((s,k)=>{
    const w=svgEl(g,'g',{});
    
    
    const ib={l:insetBoxes[k].l,r:insetBoxes[k].r,t:744.3,b:814.3};
    const ix=lin(s,s+40,ib.l,ib.r), iy=lin(-80,80,ib.b,ib.t);
    let dp='';
    jInsetPos[k].forEach((v,i)=>{
      const px=ix(s+i+0.5).toFixed(2);
      dp+='M'+px+' '+iy(v).toFixed(2)+'V'+iy(jInsetNeg[k][i]).toFixed(2);
    });
    const halo=svgEl(w,'path',{d:dp,stroke:'#f5b8c6','stroke-width':4,fill:'none'});
    
    
    const tr=svgEl(w,'path',{d:dp,stroke:'#b8123a','stroke-width':1.3,fill:'none'});
    
    
    shape(w,'rect',{x:ib.l,y:iy(3),width:ib.r-ib.l,height:iy(-3)-iy(3),fill:'#c20023'},'inset-baseline');
    const insetTicks=jInsetXTicks.map(t=>s+t);
    drawAxes(w,ib,ix,iy,insetTicks,jInsetYTicks,{size:8.5,weight:'bold',xOff:k?8:6.5,yOff:4,xLabelShift:2});
    shape(g,'rect',{x:x(jMarkCycles[k]),y:829.5,width:4.7,height:63,fill:'none',stroke:'#222','stroke-width':0.9},'zoom-region-'+s);
  });
})();

/* ---------- watermark ---------- */
(function(){
  const g=panel('watermark');
  shape(g,'path',{d:'M12 927L15 941M21 925Q17 940 30 942Q37 941 38 933',fill:'none',stroke:'#dcdcdc','stroke-width':4,'stroke-linecap':'round'},'watermark-logo-stroke');
  shape(g,'circle',{cx:29,cy:925,r:3.8,fill:'none',stroke:'#dcdcdc','stroke-width':2},'watermark-logo-dot');
  shape(g,'circle',{cx:41,cy:924,r:3.8,fill:'none',stroke:'#dcdcdc','stroke-width':2},'watermark-logo-dot');
  const t=txt(g,'大数跨境',96,932.5,{size:22,weight:'bold',fill:'#e6e6e6',family:'"Noto Sans CJK SC",sans-serif'},'watermark-text');
  t.setAttribute('stroke','#bdbdbd');
  t.setAttribute('stroke-width','0.5');
})();
</script>
</body>
</html>
